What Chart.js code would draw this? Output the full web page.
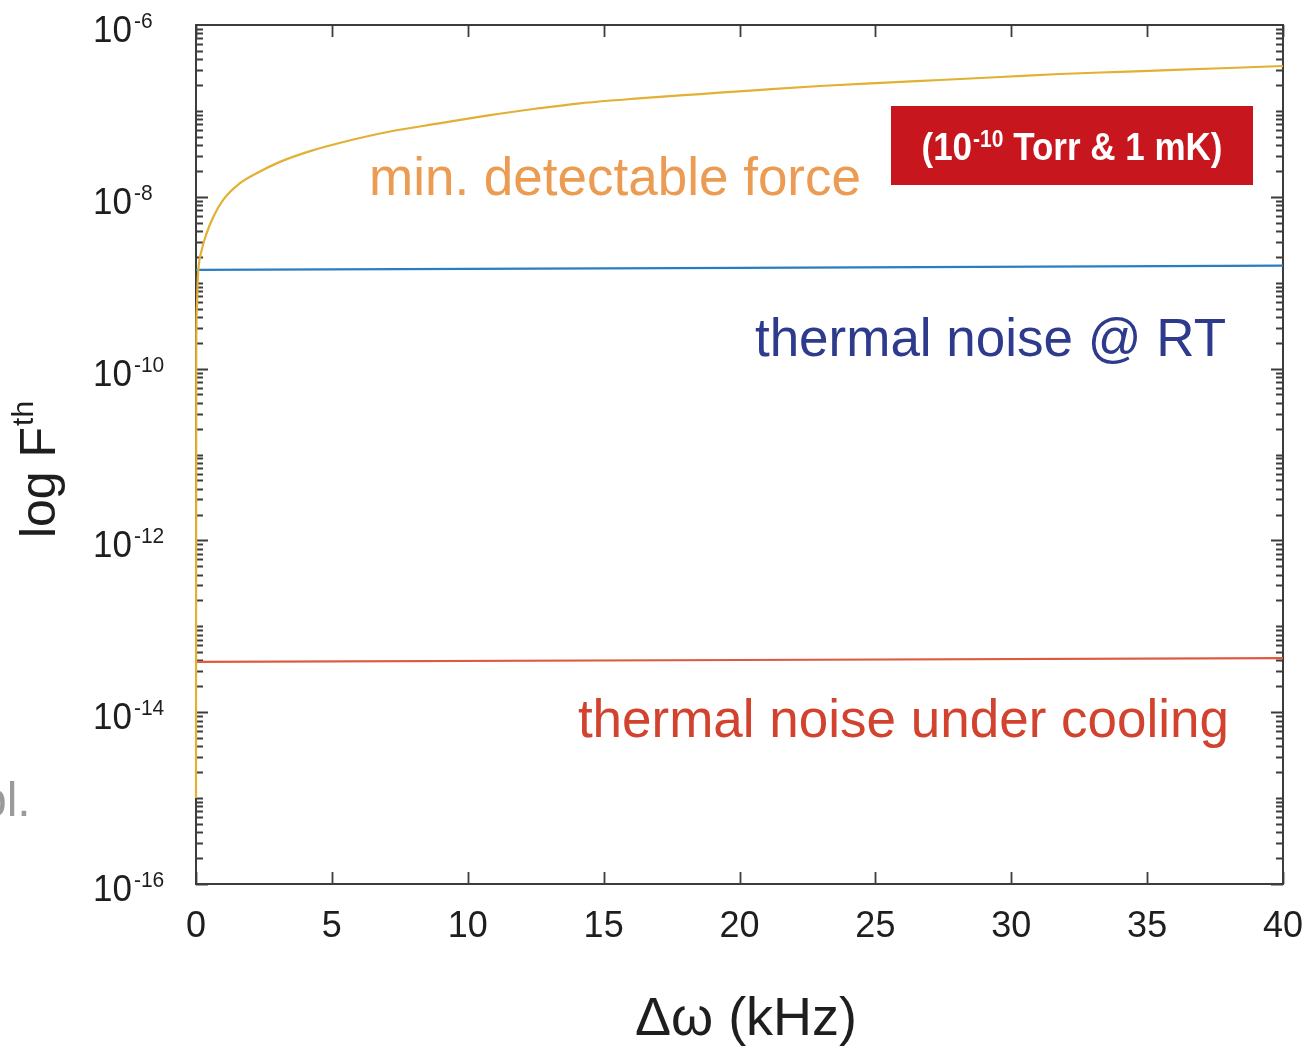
<!DOCTYPE html>
<html>
<head>
<meta charset="utf-8">
<script src="https://cdn.jsdelivr.net/npm/chart.js@4.4.0/dist/chart.umd.min.js"></script>
<style>
  html, body { margin: 0; padding: 0; background: #fff; }
  #wrap { width: 1312px; height: 1046px; position: relative; }
</style>
</head>
<body>
<div id="wrap"><canvas id="chart" width="1312" height="1046"></canvas></div>
<script>
// ---- data (x in kHz, F on a log axis) ----
const minForceX = [0, 0.01, 0.03, 0.06, 0.085, 0.21, 0.39, 0.64, 1.0, 1.62, 2.23, 3.09, 4.2, 5.5, 7.14, 9, 10.82, 12.5, 14.13, 16.3, 18.55, 20.8, 22.96, 25.2, 27.38, 29.6, 31.79, 34, 36, 38, 40];
const minForceY = [1e-15, 1.7e-10, 5e-10, 1e-9, 1.41e-9, 2.4e-9, 3.76e-9, 5.86e-9, 9.2e-9, 1.44e-8, 1.88e-8, 2.55e-8, 3.4e-8, 4.4e-8, 5.75e-8, 7.2e-8, 8.95e-8, 1.06e-7, 1.226e-7, 1.4e-7, 1.57e-7, 1.76e-7, 1.95e-7, 2.12e-7, 2.29e-7, 2.48e-7, 2.69e-7, 2.85e-7, 3.0e-7, 3.16e-7, 3.33e-7];

const rtNoiseX = [0, 20, 40];
const rtNoiseY = [1.41e-9, 1.49e-9, 1.58e-9];

const coolNoiseX = [0, 20, 40];
const coolNoiseY = [3.85e-14, 4.05e-14, 4.27e-14];

const xTickValues = [0, 5, 10, 15, 20, 25, 30, 35, 40];
const xTickLabels = ['0', '5', '10', '15', '20', '25', '30', '35', '40'];
const yTickValues = [1e-6, 1e-8, 1e-10, 1e-12, 1e-14, 1e-16];
const yTickExps = ['-6', '-8', '-10', '-12', '-14', '-16'];

const FONT = '"Liberation Sans", Arial, sans-serif';

const toPoints = (xs, ys) => xs.map((x, i) => ({ x: x, y: ys[i] }));

// text with a small vertical stretch, like the source image
function drawText(ctx, txt, x, y, size, color, align, sy, weight) {
  ctx.save();
  ctx.translate(x, y);
  ctx.scale(1, sy || 1);
  ctx.font = (weight || '') + ' ' + size + 'px ' + FONT;
  ctx.fillStyle = color;
  ctx.textAlign = align || 'left';
  ctx.textBaseline = 'alphabetic';
  ctx.fillText(txt, 0, 0);
  ctx.restore();
}

function textWidth(ctx, txt, size, weight) {
  ctx.save();
  ctx.font = (weight || '') + ' ' + size + 'px ' + FONT;
  const w = ctx.measureText(txt).width;
  ctx.restore();
  return w;
}

// ======================= BOX + INWARD TICKS =======================
const axesBox = {
  id: 'axesBox',
  beforeDatasetsDraw(chart) {
    const { ctx, chartArea: a, scales: { x, y } } = chart;
    ctx.save();
    ctx.strokeStyle = '#3c3c3c';
    ctx.lineWidth = 2;
    ctx.strokeRect(a.left, a.top, a.right - a.left, a.bottom - a.top);

    ctx.lineWidth = 1.8;
    ctx.beginPath();
    xTickValues.forEach(v => {
      const px = Math.round(x.getPixelForValue(v)) + 0.5;
      ctx.moveTo(px, a.bottom); ctx.lineTo(px, a.bottom - 12);
      ctx.moveTo(px, a.top); ctx.lineTo(px, a.top + 12);
    });
    for (let e = -16; e < -6; e++) {
      for (let k = 1; k < 10; k++) {
        const py = Math.round(y.getPixelForValue(k * Math.pow(10, e))) + 0.5;
        const len = (k === 1 && e % 2 === 0) ? 12 : 7;
        ctx.moveTo(a.left, py); ctx.lineTo(a.left + len, py);
        ctx.moveTo(a.right, py); ctx.lineTo(a.right - len, py);
      }
    }
    ctx.stroke();
    ctx.restore();
  }
};

// ======================= LABELS + NOTES =======================
const labelsPlugin = {
  id: 'labelsPlugin',
  afterDraw(chart) {
    const { ctx, chartArea: a, scales: { x, y } } = chart;
    const ink = '#1e1e1e';

    // y tick labels 10^n
    yTickValues.forEach((v, i) => {
      const py = y.getPixelForValue(v);
      const left = 93;
      drawText(ctx, '10', left, py + 17, 35, ink, 'left', 1.05);
      const w = textWidth(ctx, '10', 35);
      drawText(ctx, yTickExps[i], left + w + 2, py + 3, 21, ink, 'left', 1.05);
    });

    // x tick labels
    xTickValues.forEach((v, i) => {
      drawText(ctx, xTickLabels[i], x.getPixelForValue(v), 937, 36, ink, 'center', 1.05);
    });

    // axis titles
    drawText(ctx, 'Δω (kHz)', 746, 1035, 54, ink, 'center', 1.0);

    ctx.save();
    ctx.translate(55, 470);
    ctx.rotate(-Math.PI / 2);
    const w1 = textWidth(ctx, 'log F', 50);
    const w2 = textWidth(ctx, 'th', 30);
    const start = -(w1 + w2) / 2;
    drawText(ctx, 'log F', start, 0, 50, ink, 'left');
    drawText(ctx, 'th', start + w1 + 1, -22, 30, ink, 'left');
    ctx.restore();

    // curve notes
    drawText(ctx, 'min. detectable force', 369, 195, 53, '#EC9B52', 'left');
    drawText(ctx, 'thermal noise @ RT', 1226, 356, 53, '#2E3A8C', 'right');
    drawText(ctx, 'thermal noise under cooling', 1229, 737, 53, '#D2432F', 'right');

    // red condition box
    ctx.save();
    ctx.fillStyle = '#C8161E';
    ctx.fillRect(891, 106, 362, 79);
    ctx.restore();
    const big = 35, small = 21;
    const p1 = '(10', p2 = '-10', p3 = ' Torr & 1 mK)';
    const wa = textWidth(ctx, p1, big, 'bold');
    const wb = textWidth(ctx, p2, small, 'bold');
    const wc = textWidth(ctx, p3, big, 'bold');
    let tx = 1072 - (wa + wb + wc + 1) / 2;
    drawText(ctx, p1, tx, 160, big, '#ffffff', 'left', 1.1, 'bold');
    tx += wa + 1;
    drawText(ctx, p2, tx, 147, small, '#ffffff', 'left', 1.1, 'bold');
    tx += wb;
    drawText(ctx, p3, tx, 160, big, '#ffffff', 'left', 1.1, 'bold');

    // cut-off fragment at the left edge
    drawText(ctx, 'pl.', -20, 816, 48, '#9a9a9a', 'left');
  }
};

// ======================= CHART =======================
new Chart(document.getElementById('chart').getContext('2d'), {
  type: 'line',
  data: {
    datasets: [
      {
        label: 'min. detectable force',
        data: toPoints(minForceX, minForceY),
        borderColor: '#E2B033',
        borderWidth: 2.2,
        pointRadius: 0,
        cubicInterpolationMode: 'monotone',
        clip: 4
      },
      {
        label: 'thermal noise @ RT',
        data: toPoints(rtNoiseX, rtNoiseY),
        borderColor: '#2A7EC0',
        borderWidth: 2.2,
        pointRadius: 0,
        clip: 4
      },
      {
        label: 'thermal noise under cooling',
        data: toPoints(coolNoiseX, coolNoiseY),
        borderColor: '#DD5A40',
        borderWidth: 2.2,
        pointRadius: 0,
        clip: 4
      }
    ]
  },
  options: {
    responsive: false,
    animation: false,
    devicePixelRatio: 1,
    layout: { padding: { top: 25, right: 29, left: 0, bottom: 0 } },
    plugins: { legend: { display: false }, tooltip: { enabled: false } },
    scales: {
      x: {
        type: 'linear', min: 0, max: 40,
        ticks: { display: false }, grid: { display: false }, border: { display: false },
        afterFit(s) { s.height = 162; }
      },
      y: {
        type: 'logarithmic', min: 1e-16, max: 1e-6,
        ticks: { display: false }, grid: { display: false }, border: { display: false },
        afterFit(s) { s.width = 196; }
      }
    }
  },
  plugins: [axesBox, labelsPlugin]
});
</script>
</body>
</html>
